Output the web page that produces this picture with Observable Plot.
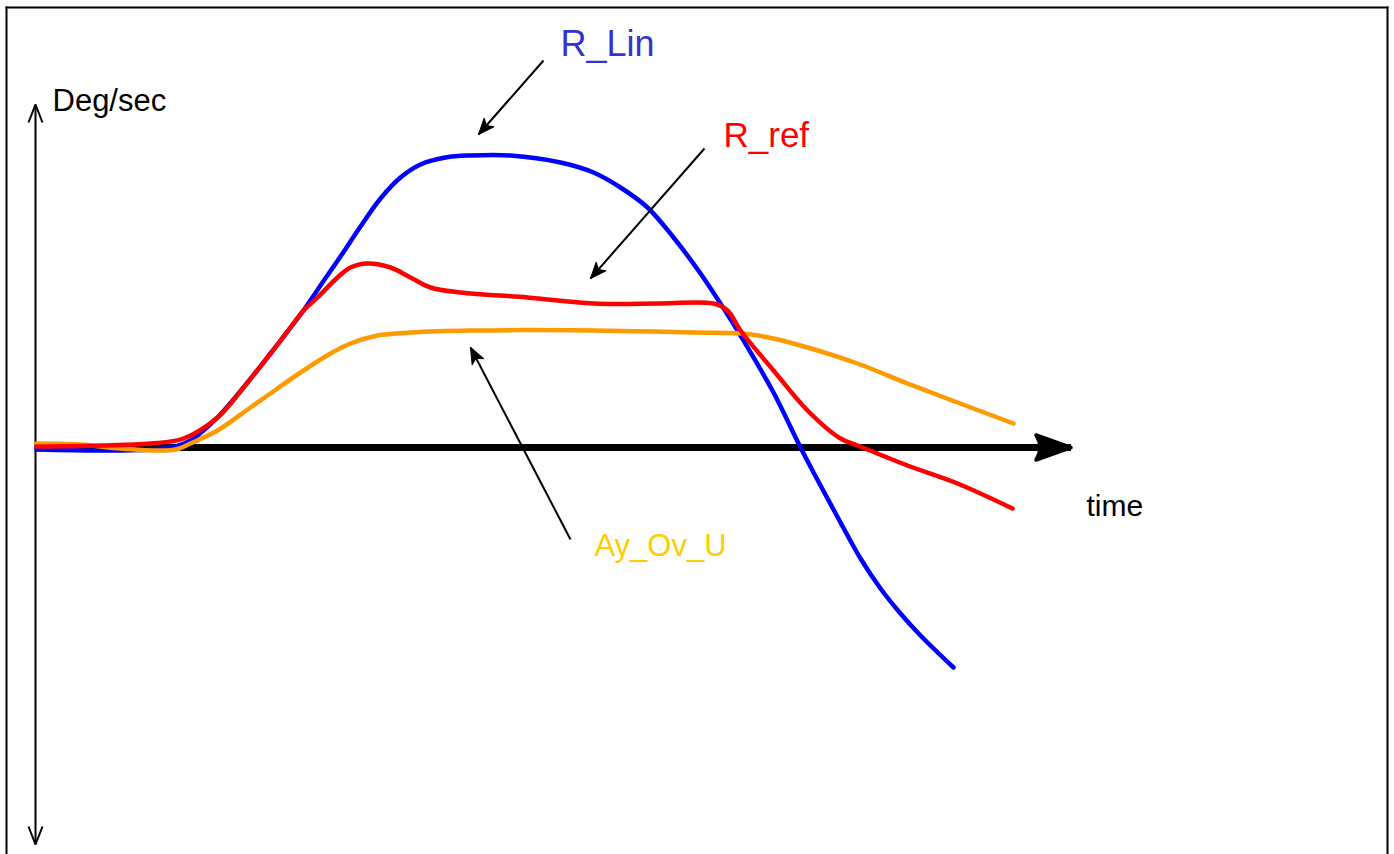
<!DOCTYPE html>
<html>
<head>
<meta charset="utf-8">
<script src="https://cdn.jsdelivr.net/npm/d3@7"></script>
<script src="https://cdn.jsdelivr.net/npm/@observablehq/plot@0.6"></script>
<style>
  html, body { margin: 0; padding: 0; background: #fff; overflow: hidden; }
</style>
</head>
<body>
<div id="chart"></div>
<script>
// Yaw rate responses (deg/sec) against time (arbitrary units)

// R_Lin — linear reference yaw rate
const rLinTime = [0, 6.4, 11.4, 13.9, 15.4, 18.1, 20.7, 23.4, 25.4, 26.7, 28.4, 30.4, 32.4, 34.4, 36.4, 38.4, 40.9, 43.4, 47.4, 52.4, 55.7, 58.4, 61.1, 63.7, 66.4, 69.1, 70.4, 73.7, 76.4, 78.4, 80.4, 82.4, 84.4, 86.4, 88.4, 91.7];
const rLinRate = [-0.2, -0.3, -0.2, 0.1, 0.7, 3.0, 6.0, 9.4, 12.0, 13.7, 16.2, 19.1, 22.1, 24.9, 27.0, 28.3, 29.0, 29.2, 29.2, 28.5, 27.5, 26.0, 24.0, 21.0, 17.4, 13.3, 11.2, 5.5, 0.0, -3.8, -7.5, -11.1, -14.1, -16.6, -18.8, -22.0];

// Ay_Ov_U — lateral acceleration over speed
const ayOvUTime = [0, 4.4, 8.4, 11.9, 13.9, 15.4, 18.1, 21.4, 24.1, 26.7, 29.4, 31.4, 34.1, 37.4, 43.4, 55.7, 65.7, 70.7, 73.7, 77.1, 82.1, 87.1, 92.1, 97.7];
const ayOvURate = [0.4, 0.3, -0.1, -0.3, -0.2, 0.4, 1.7, 4.0, 5.9, 7.7, 9.4, 10.4, 11.2, 11.5, 11.7, 11.7, 11.5, 11.4, 10.9, 10.0, 8.4, 6.4, 4.5, 2.4];

// R_ref — reference yaw rate
const rRefTime = [0, 6.4, 11.4, 14.7, 18.1, 20.7, 23.4, 25.4, 26.7, 28.1, 30.1, 31.4, 33.1, 35.4, 37.4, 39.4, 42.4, 49.1, 55.7, 62.4, 67.7, 69.1, 70.4, 73.7, 77.1, 80.4, 82.1, 87.1, 92.1, 97.6];
const rRefRate = [0.1, 0.2, 0.4, 0.9, 3.0, 6.0, 9.4, 12.0, 13.7, 15.0, 17.0, 18.0, 18.4, 18.0, 17.0, 16.0, 15.5, 15.0, 14.4, 14.4, 14.4, 13.7, 11.7, 7.7, 3.7, 0.9, 0.2, -1.8, -3.6, -6.1];

// Axis arrows
const timeAxis = [{t1: 0, v1: 0, t2: 103.45, v2: 0}];
const rateAxis = [{t1: -0.1, v1: -39.7, t2: -0.1, v2: 34.3}];

// Labels (baseline positions) and the pointers to their curves
const labelText  = ["Deg/sec", "R_Lin", "R_ref", "Ay_Ov_U", "time"];
const labelTime  = [1.6, 52.4, 68.7, 55.8, 105.0];
const labelRate  = [33.7, 39.2, 30.1, -10.8, -6.8];
const labelColor = ["#000000", "#3333cc", "#ff0000", "#ffcc00", "#000000"];
const labelSize  = [31, 36, 35, 31, 30];

const pointerFrom = [[50.7, 38.7], [66.8, 29.9], [53.4, -9.2]];
const pointerTo   = [[44.2, 31.3], [55.4, 16.9], [43.4, 10.0]];

const zip = (ts, vs) => ts.map((t, i) => ({t, v: vs[i]}));
const labels = labelText.map((text, i) => ({text, t: labelTime[i], v: labelRate[i], color: labelColor[i], size: labelSize[i]}));
const pointers = pointerFrom.map((f, i) => ({t1: f[0], v1: f[1], t2: pointerTo[i][0], v2: pointerTo[i][1]}));

// Marker factory: returns a Plot marker function drawing the given path
function marker(d, {w, h, fill = true, strokeWidth = 1, join = "round"}) {
  return (color) => {
    const m = d3.create("svg:marker")
      .attr("viewBox", `${-w} ${-h} ${2 * w} ${2 * h}`)
      .attr("markerWidth", 2 * w)
      .attr("markerHeight", 2 * h)
      .attr("markerUnits", "userSpaceOnUse")
      .attr("refX", 0)
      .attr("refY", 0)
      .attr("orient", "auto-start-reverse")
      .style("overflow", "visible");
    m.append("path")
      .attr("d", d)
      .attr("fill", fill ? color : "none")
      .attr("stroke", color)
      .attr("stroke-width", strokeWidth)
      .attr("stroke-linejoin", join);
    return m.node();
  };
}

const bigHead = marker("M0,0 L-35,-12.5 Q-27,0 -35,12.5 Z", {w: 40, h: 16, strokeWidth: 3.5});
const smallHead = marker("M0,0 L-16,-6.5 L-12,0 L-16,6.5 Z", {w: 20, h: 10, strokeWidth: 1});
const chevron = marker("M-18,-7 L0,0 L-18,7", {w: 22, h: 10, fill: false, strokeWidth: 2, join: "miter"});

const font = "'Liberation Sans', Arial, Helvetica, sans-serif";

const chart = Plot.plot({
  width: 1394,
  height: 854,
  marginLeft: 6,
  marginTop: 7,
  marginRight: 7,
  marginBottom: 0,
  x: {domain: [-3.0, 135.1], axis: null},
  y: {domain: [-40.7, 44.0], axis: null},
  style: {background: "#fff", fontFamily: font},
  marks: [
    Plot.frame({anchor: "left", strokeWidth: 2}),
    Plot.frame({anchor: "top", strokeWidth: 2}),
    Plot.frame({anchor: "right", strokeWidth: 2}),
    Plot.link(rateAxis, {x1: "t1", y1: "v1", x2: "t2", y2: "v2", stroke: "#000", strokeWidth: 2, markerStart: chevron, markerEnd: chevron}),
    Plot.link(timeAxis, {x1: "t1", y1: "v1", x2: "t2", y2: "v2", stroke: "#000", strokeWidth: 7, markerEnd: bigHead}),
    Plot.line(zip(rLinTime, rLinRate), {x: "t", y: "v", stroke: "#0000ff", strokeWidth: 4.5, curve: "catmull-rom"}),
    Plot.line(zip(ayOvUTime, ayOvURate), {x: "t", y: "v", stroke: "#ff9900", strokeWidth: 4.5, curve: "catmull-rom"}),
    Plot.line(zip(rRefTime, rRefRate), {x: "t", y: "v", stroke: "#ff0000", strokeWidth: 4.5, curve: "catmull-rom"}),
    Plot.link(pointers, {x1: "t1", y1: "v1", x2: "t2", y2: "v2", stroke: "#000", strokeWidth: 2, markerEnd: smallHead}),
    Plot.text(labels, {x: "t", y: "v", text: "text", fill: d => d.color, fontSize: d => d.size, textAnchor: "start", lineAnchor: "bottom", fontFamily: font})
  ]
});

document.getElementById("chart").append(chart);
</script>
</body>
</html>
